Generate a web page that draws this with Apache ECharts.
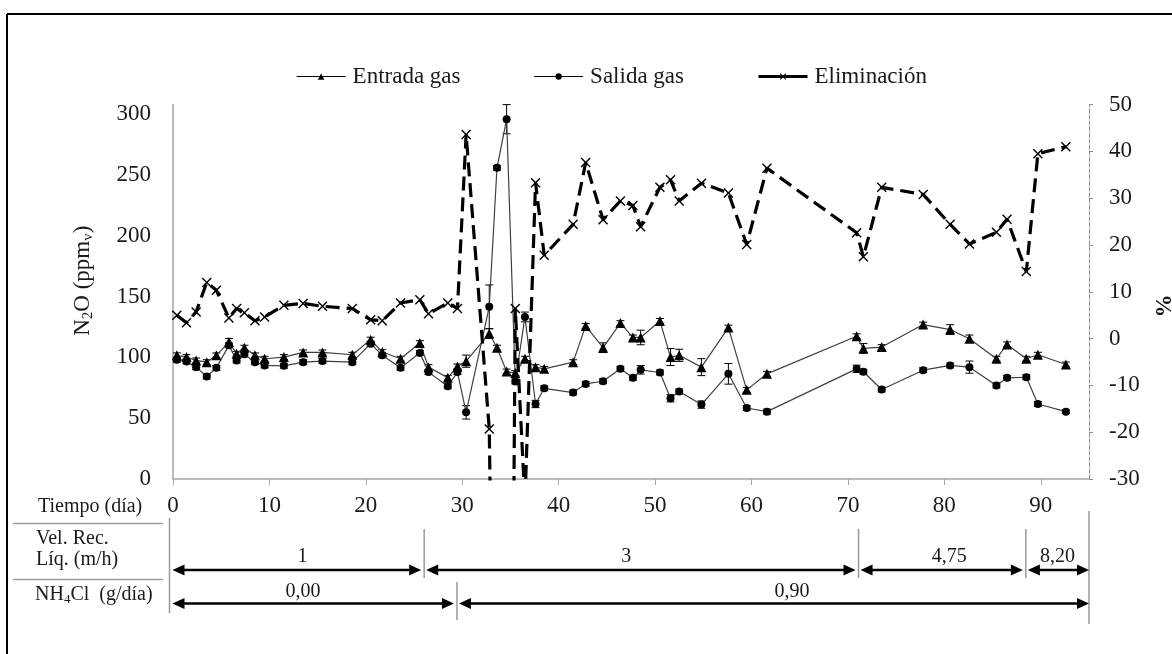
<!DOCTYPE html>
<html><head><meta charset="utf-8">
<script src="https://cdn.jsdelivr.net/npm/echarts@6/dist/echarts.min.js"></script>
<style>html,body{margin:0;padding:0;background:#fff}#c{width:1172px;height:654px}</style>
</head><body><div id="c"></div>
<script>
// ---- data ----
const days = [0.4,1.4,2.4,3.5,4.5,5.8,6.6,7.4,8.5,9.5,
  11.5,13.5,15.5,18.6,20.5,21.7,23.6,25.6,26.5,28.5,
  29.5,30.4,32.8,33.6,34.6,35.5,36.5,37.6,38.5,41.5,
  42.8,44.6,46.4,47.7,48.5,50.5,51.6,52.5,54.8,57.6,
  59.5,61.6,70.9,71.6,73.5,77.8,80.6,82.6,85.4,86.5,
  88.5,89.7,92.6];
const entrada = [101.7,100.3,97.5,96.1,101.7,112.6,103.0,108.0,101.7,98.9,
  100.3,104.1,104.1,102.2,114.6,104.4,98.9,111.8,92.0,83.2,
  92.6,96.9,119.6,108.0,88.4,87.1,98.9,92.0,90.6,96.1,
  125.9,108.0,128.2,116.4,116.4,130.0,100.3,101.7,92.0,124.5,
  73.3,86.5,117.4,107.4,108.5,127.0,122.9,115.4,98.9,110.7,
  98.9,102.2,94.2];
const entradaErr = [2,2,2,2,2,3,2,2,2,2, 2,2,2,2,2,2,2,2,2,2,
  2,5,4,2,2,2,2,2,2,2, 2,4,2,2,6,2,7,5,7,2,
  2,2,2,4,2,2,4,3,2,2, 2,2,2];
const salida = [98.1,96.7,92.0,84.3,91.4,109.9,97.5,102.5,96.1,93.4,
  93.1,96.1,97.0,96.1,111.3,101.7,91.4,103.6,87.9,76.3,
  87.9,54.8,141.6,255.9,295.9,80.2,133.3,61.7,74.6,71.1,
  78.2,80.4,90.6,83.2,89.8,87.6,66.4,71.9,61.2,86.5,
  58.4,55.4,90.6,88.2,73.6,89.5,93.4,92.0,76.9,83.2,
  83.7,61.7,55.4];
const salidaErr = [2,2,2,2,2,2,2,2,2,2, 2,2,2,2,2,2,2,2,2,2,
  2,5.5,18,2,12,2,4,3,2,2, 2,2,2,2,3.5,2,3,2,3,8.5,
  2,2,3,2,2,2,2,5,2,2, 2,2,1.5];
const eliminacion = [5.0,3.4,5.7,12.0,10.3,4.4,6.4,5.5,3.8,4.6,
  7.1,7.5,6.9,6.4,4.0,3.8,7.6,8.3,5.3,7.6,
  6.4,43.6,-19.3,-137,-235,6.4,-35,33.3,17.8,24.4,
  37.6,25.4,29.4,28.4,23.9,32.3,33.9,29.4,33.2,31.1,
  20.1,36.4,22.6,17.5,32.3,30.8,24.4,20.2,22.7,25.5,
  14.3,39.5,41.0];
const seriesNames = ['Entrada gas','Salida gas','Eliminación'];
// phases: [startDay, endDay, label]
const velPhases = [[0,26.05,'1'],[26.05,71.1,'3'],[71.1,88.45,'4,75'],[88.45,95,'8,20']];
const nh4Phases = [[0,29.45,'0,00'],[29.45,95,'0,90']];

// ---- layout / style ----
const FONT = "'Liberation Serif','Times New Roman',serif";
const TXT = '#1a1a1a';
const velLabelShift = [4,-15,7,0];
const nh4LabelShift = [-12,19];
const XPATH = 'path://M0,1L1,0L5,4L9,0L10,1L6,5L10,9L9,10L5,6L1,10L0,9L4,5Z';

const chart = echarts.init(document.getElementById('c'), null, {renderer:'canvas'});

function errSeries(vals, errs){
  return {
    type:'custom', yAxisIndex:0, silent:true, z:3,
    data: days.map((d,i)=>[d, vals[i], errs[i]]),
    renderItem:(params, api)=>{
      const x=api.value(0), y=api.value(1), e=api.value(2);
      const t=api.coord([x,y+e]), b=api.coord([x,y-e]); const w=4;
      const st={stroke:'#000', lineWidth:1};
      return {type:'group', children:[
        {type:'line', shape:{x1:t[0],y1:t[1],x2:b[0],y2:b[1]}, style:st},
        {type:'line', shape:{x1:t[0]-w,y1:t[1],x2:t[0]+w,y2:t[1]}, style:st},
        {type:'line', shape:{x1:b[0]-w,y1:b[1],x2:b[0]+w,y2:b[1]}, style:st}
      ]};
    }
  };
}

const option = {
  animation:false,
  backgroundColor:'#fff',
  textStyle:{fontFamily:FONT},
  grid:{left:173, right:83, top:104.5, bottom:175, outerBoundsMode:'none', containLabel:false},
  legend:{
    left:291, top:60, itemWidth:49, itemHeight:8, itemGap:73,
    textStyle:{fontFamily:FONT, fontSize:23, color:TXT, padding:[0,0,0,2]},
    data:[
      {name:seriesNames[0], lineStyle:{color:'#000', width:1.2}},
      {name:seriesNames[1], lineStyle:{color:'#000', width:1.2}},
      {name:seriesNames[2], lineStyle:{type:'solid', width:3}}
    ]
  },
  xAxis:{
    type:'value', min:0, max:95, interval:10,
    axisLine:{show:true, lineStyle:{color:'#a6a6a6', width:1.5}},
    axisTick:{show:true, length:6, lineStyle:{color:'#a6a6a6', width:1}},
    splitLine:{show:false},
    axisLabel:{fontFamily:FONT, fontSize:23, color:TXT, margin:15, showMaxLabel:false}
  },
  yAxis:[
    {
      type:'value', min:0, max:308, interval:50, position:'left',
      axisLine:{show:true, lineStyle:{color:'#a6a6a6', width:1.5}},
      axisTick:{show:false}, splitLine:{show:false},
      axisLabel:{fontFamily:FONT, fontSize:23, color:TXT, margin:22, showMaxLabel:false},
      name:'N{s|2}O (ppm{s|v})', nameLocation:'middle', nameGap:77,
      nameTextStyle:{fontFamily:FONT, fontSize:23, color:TXT, lineHeight:26, padding:[0,0,0,22],
        rich:{s:{fontFamily:FONT, fontSize:15, color:TXT, lineHeight:26, verticalAlign:'bottom', padding:[8,0,0,0]}}}
    },
    {
      type:'value', min:-30, max:50, interval:10, position:'right',
      axisLine:{show:true, lineStyle:{color:'#8c8c8c', width:1, type:'dashed'}},
      axisTick:{show:true, length:4, lineStyle:{color:'#8c8c8c'}}, splitLine:{show:false},
      axisLabel:{fontFamily:FONT, fontSize:23, color:TXT, margin:20},
      name:'%', nameLocation:'middle', nameGap:53, nameRotate:-90,
      nameTextStyle:{fontFamily:FONT, fontSize:23, fontWeight:'bold', color:TXT, padding:[0,0,0,28]}
    }
  ],
  series:[
    {
      name:seriesNames[0], type:'line', yAxisIndex:0, z:4,
      data: days.map((d,i)=>[d, entrada[i]]),
      symbol:'triangle', symbolSize:10, showAllSymbol:true,
      lineStyle:{color:'#404040', width:1.2},
      itemStyle:{color:'#000'}
    },
    {
      name:seriesNames[1], type:'line', yAxisIndex:0, z:4,
      data: days.map((d,i)=>[d, salida[i]]),
      symbol:'circle', symbolSize:8, showAllSymbol:true,
      lineStyle:{color:'#404040', width:1.2},
      itemStyle:{color:'#000'}
    },
    {
      name:seriesNames[2], type:'line', yAxisIndex:1, z:5,
      data: days.map((d,i)=>[d, eliminacion[i]]),
      symbol:XPATH, symbolSize:10, showAllSymbol:true,
      lineStyle:{color:'#000', width:3.2, type:[14,7]},
      itemStyle:{color:'#000'}
    },
    errSeries(entrada, entradaErr),
    errSeries(salida, salidaErr)
  ]
};
chart.setOption(option);

// ---- bottom table with graphic elements positioned via the x axis scale ----
const px = d => chart.convertToPixel({xAxisIndex:0}, d);
const g = [];
const GRAY = '#9a9a9a';
function vline(x,y1,y2){ g.push({type:'line', shape:{x1:x,y1:y1,x2:x,y2:y2}, style:{stroke:GRAY, lineWidth:1.5}, z:10}); }
function hline(x1,x2,y){ g.push({type:'line', shape:{x1:x1,y1:y,x2:x2,y2:y}, style:{stroke:GRAY, lineWidth:1.5}, z:10}); }
function text(t,x,y,align,size,rich){
  g.push({type:'text', z:10, style:{text:t, x:x, y:y, align:align||'left', verticalAlign:'middle',
    fontFamily:FONT, fontSize:size||20, fill:TXT, rich:rich}});
}
function arrow(xl,xr,y){
  const L=12, H=5.5;
  g.push({type:'line', shape:{x1:xl+L-1,y1:y,x2:xr-L+1,y2:y}, style:{stroke:'#000', lineWidth:2.3}, z:10});
  g.push({type:'polygon', shape:{points:[[xl,y],[xl+L,y-H],[xl+L,y+H]]}, style:{fill:'#000'}, z:10});
  g.push({type:'polygon', shape:{points:[[xr,y],[xr-L,y-H],[xr-L,y+H]]}, style:{fill:'#000'}, z:10});
}
function phaseRow(phases, shifts, yArrow, yLabel, sepTop, sepBot){
  phases.forEach((p,i)=>{
    const a=px(p[0]), b=px(p[1]);
    const gl = i===0 ? 0.5 : 3, gr = i===phases.length-1 ? 0 : 3;
    arrow(a+gl-1, b-gr, yArrow);
    text(p[2], (a+b)/2 + shifts[i], yLabel, 'center', 20);
    if(i<phases.length-1) vline(b, sepTop, sepBot);
  });
}
// headings
text('Tiempo (día)', 38, 507, 'left', 20);
hline(13,163,523.5);
text('Vel. Rec.', 36, 539, 'left', 20);
text('Líq. (m/h)', 36, 560, 'left', 20);
hline(13,163,579.5);
text('NH{s|4}Cl  (g/día)', 35, 595, 'left', 20, {s:{fontFamily:FONT, fontSize:13, fill:TXT, verticalAlign:'bottom', padding:[9,0,0,0]}});
vline(px(0)-3.5, 518, 613);
vline(px(95), 511, 624);
phaseRow(velPhases, velLabelShift, 570, 557, 529, 578);
phaseRow(nh4Phases, nh4LabelShift, 603.5, 592, 582, 620);
// outer frame (top and left edges visible)
g.push({type:'line', shape:{x1:7,y1:14,x2:1172,y2:14}, style:{stroke:'#000', lineWidth:2}, z:10});
g.push({type:'line', shape:{x1:7,y1:14,x2:7,y2:654}, style:{stroke:'#000', lineWidth:2}, z:10});
chart.setOption({graphic:g});
</script></body></html>
